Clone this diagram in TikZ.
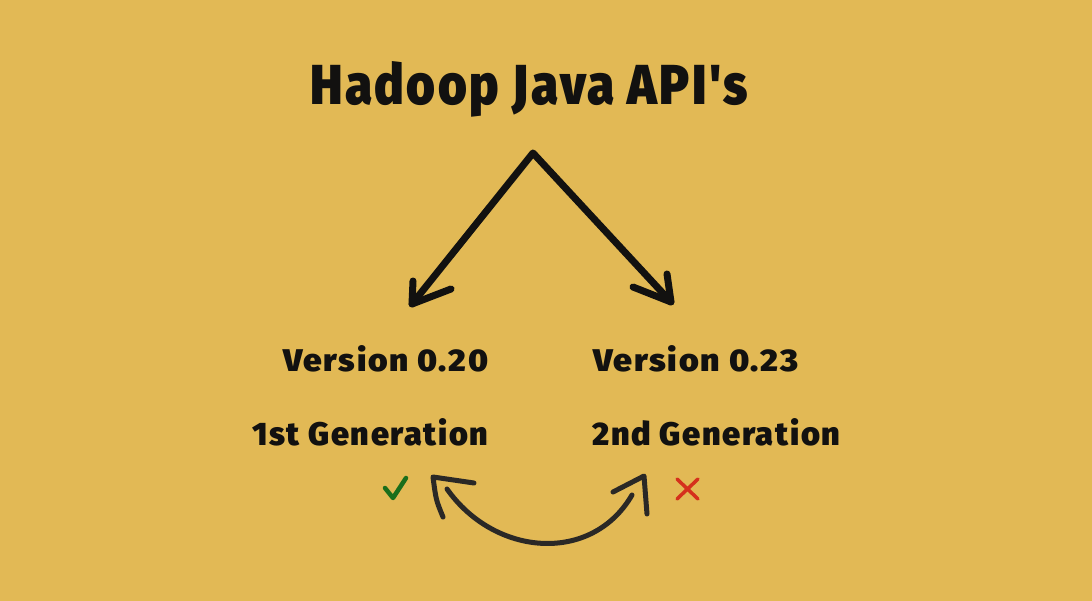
\documentclass[tikz,border=0pt]{standalone}
\usepackage{fontspec}
\usepackage{graphicx}
\newfontfamily\heavyfont[LetterSpace=5]{Fira Sans Black}
\definecolor{bgcol}{HTML}{E2B955}
\definecolor{inkcol}{HTML}{121110}
\definecolor{curvecol}{HTML}{2A2826}
\definecolor{okcol}{HTML}{1B6E1B}
\definecolor{nocol}{HTML}{D5301C}
\newcommand{\fitword}[3]{\resizebox{#1}{#2}{\heavyfont #3}}
\tikzset{
  label text/.style={inner sep=0pt, anchor=base west, text=inkcol},
  big arrow/.style={draw=inkcol, line width=7pt, line cap=round, line join=round},
  swap arrow/.style={draw=curvecol, line width=5pt, line cap=round, line join=round},
}
\begin{document}
\begin{tikzpicture}[x=1pt,y=-1pt]
\fill[bgcol] (0,0) rectangle (1092,601);
\useasboundingbox (0,0) rectangle (1092,601);

% texts
\node[label text] (title) at (310,105) {\fitword{438pt}{43pt}{Hadoop Java API's}};
\node[label text] (v20) at (283,371) {\fitword{205pt}{26pt}{Version 0.20}};
\node[label text] (g1) at (252,445) {\fitword{236pt}{27pt}{1st Generation}};
\node[label text] (v23) at (593,371) {\fitword{205pt}{26pt}{Version 0.23}};
\node[label text] (g2) at (592,445) {\fitword{248pt}{27pt}{2nd Generation}};

% split arrows
\coordinate (apex) at (533,153);
\coordinate (tipL) at (412,304);
\coordinate (tipR) at (671,302);
\draw[big arrow] (tipL) -- (apex) -- (tipR);
\draw[big arrow] (413,281) -- (tipL) -- (451,289);
\draw[big arrow] (667,274) -- (tipR) -- (633,287);

% swap arrow
\coordinate (sL) at (447,489);
\coordinate (sR) at (632,495);
\coordinate (hL) at (433,477);
\coordinate (hR) at (644,476);
\draw[swap arrow] (sL) .. controls (495,557) and (592,564) .. (sR);
\draw[swap arrow] (443,517) .. controls (436,500) .. (hL) -- (474,483);
\draw[swap arrow] (613,492) -- (hR) .. controls (646,495) .. (647,514);

% check and cross
\draw[okcol, line width=4.5pt, line cap=round, line join=round] (385,488) -- (393,498) -- (406,478);
\draw[nocol, line width=3.5pt, line cap=round] (677,479) -- (698,499) (698,479) -- (677,499);
\end{tikzpicture}
\end{document}
